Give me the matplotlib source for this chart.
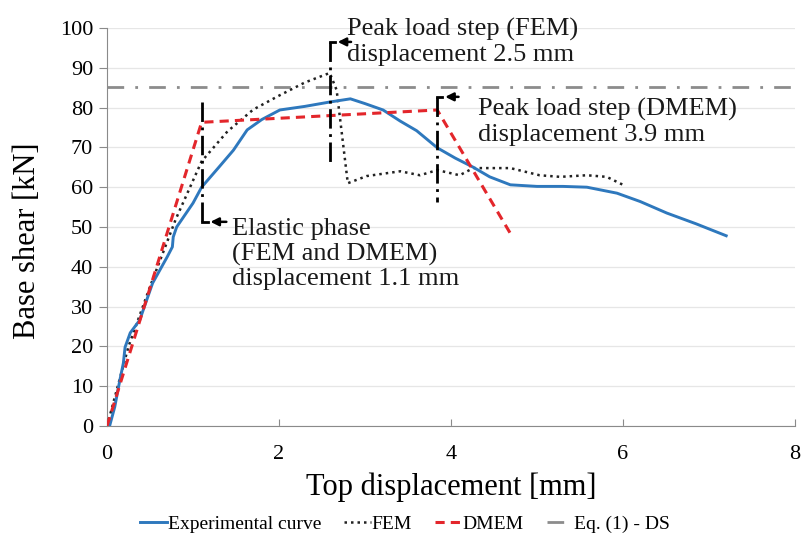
import matplotlib.pyplot as plt

plt.rcParams['font.family'] = ['Liberation Serif', 'DejaVu Serif']

# experimental base shear vs top displacement
exp_x = [0.03, 0.09, 0.15, 0.19, 0.21, 0.27, 0.38, 0.53, 0.70, 0.76, 0.77, 0.81, 1.00,
         1.10, 1.30, 1.47, 1.63, 1.80, 2.01, 2.30, 2.59, 2.83, 3.00, 3.21, 3.41, 3.60,
         3.84, 4.05, 4.26, 4.45, 4.69, 5.00, 5.30, 5.58, 5.93, 6.20, 6.51, 6.85, 7.20]
exp_y = [0.0, 4.8, 11.6, 15.8, 19.8, 23.4, 26.6, 35.9, 42.5, 45.0, 47.5, 50.0, 56.0,
         60.0, 65.0, 69.3, 74.4, 77.0, 79.4, 80.3, 81.4, 82.2, 81.0, 79.4, 76.6, 74.2,
         69.9, 67.3, 65.0, 62.6, 60.6, 60.2, 60.2, 60.0, 58.5, 56.4, 53.5, 50.8, 47.8]

# FEM curve
fem_x = [0.0, 0.25, 0.5, 0.8, 1.1, 1.4, 1.7, 2.0, 2.3, 2.59, 2.67, 2.80, 3.02, 3.41,
         3.64, 3.84, 4.10, 4.26, 4.69, 5.03, 5.27, 5.58, 5.81, 6.00]
fem_y = [0.0, 20.0, 35.0, 52.0, 66.5, 74.0, 79.5, 83.0, 86.3, 88.7, 84.4, 61.0, 62.8, 64.0,
         63.0, 64.3, 63.0, 64.8, 64.8, 63.0, 62.6, 63.0, 62.6, 60.6]

# DMEM tri-linear curve
dmem_x = [0.0, 1.1, 3.84, 4.72]
dmem_y = [0.0, 76.3, 79.4, 47.3]

eq_ds = 85.2

blue = '#2e78bd'
red = '#e3262b'

fig = plt.figure(figsize=(8.01, 5.35), dpi=100)
ax = fig.add_axes([0.1336, 0.2037, 0.8589, 0.7440])

ax.set_xlim(0, 8)
ax.set_ylim(0, 100)
ax.set_xticks([0, 2, 4, 6, 8])
ax.set_yticks(range(0, 101, 10))
ax.grid(axis='y', color='#e6e6e6', lw=0.9)
ax.set_axisbelow(True)
for s in ['top', 'right']:
    ax.spines[s].set_visible(False)
for s in ['left', 'bottom']:
    ax.spines[s].set_color('#8a8a8a')
ax.tick_params(axis='y', direction='out', length=6, color='#8a8a8a', labelsize=16, pad=4)
ax.tick_params(axis='x', direction='in', length=5, color='#8a8a8a', labelsize=16, pad=14)

ax.plot(exp_x, exp_y, color=blue, lw=2.1, label='Experimental curve', zorder=4)
ax.plot(fem_x, fem_y, color='#222222', lw=1.8, ls=(0, (1, 1.6)), label='FEM', zorder=3)
ax.plot(dmem_x, dmem_y, color=red, lw=2.2, ls=(0, (3, 2)), label='DMEM', zorder=5)
ax.axhline(eq_ds, color='#8c8c8c', lw=2.0, ls=(0, (6, 4, 1, 4)), label='Eq. (1) - DS', zorder=2)

# marker lines for the analysis steps
mk = dict(color='black', lw=2.0, ls=(0, (7, 2, 1, 2)), zorder=6)
ax.plot([1.1, 1.1], [81.4, 51.3], **mk)
ax.plot([2.59, 2.59], [96.5, 66.0], **mk)
ax.plot([3.84, 3.84], [82.7, 56.3], **mk)

arr = dict(arrowstyle='-|>', color='black', lw=1.8, mutation_scale=12)
ax.plot([1.1, 1.17], [51.3, 51.3], color='black', lw=2.0, zorder=6)
ax.annotate('', xy=(1.17, 51.3), xytext=(1.42, 51.3), arrowprops=arr)
ax.plot([2.59, 2.65], [96.5, 96.5], color='black', lw=2.0, zorder=6)
ax.annotate('', xy=(2.65, 96.5), xytext=(2.87, 96.5), arrowprops=arr)
ax.plot([3.84, 3.9], [82.7, 82.7], color='black', lw=2.0, zorder=6)
ax.annotate('', xy=(3.9, 82.7), xytext=(4.12, 82.7), arrowprops=arr)

tk = dict(fontsize=19, va='center', ha='left', color='#1a1a1a', linespacing=1.15)
ax.text(1.45, 43.2, 'Elastic phase\n(FEM and DMEM)\ndisplacement 1.1 mm', **tk)
ax.text(2.79, 96.5, 'Peak load step (FEM)\ndisplacement 2.5 mm', **tk)
ax.text(4.31, 76.4, 'Peak load step (DMEM)\ndisplacement 3.9 mm', **tk)

ax.set_xlabel('Top displacement [mm]', fontsize=22, labelpad=6)
ax.set_ylabel('Base shear [kN]', fontsize=22)
ax.yaxis.set_label_coords(-0.094, 0.465)

fig.legend(loc='center', bbox_to_anchor=(0.506, 0.021), ncol=4, frameon=False,
           fontsize=14, handlelength=1.35, handletextpad=0.05, columnspacing=1.2)

fig.savefig('out.png', dpi=100)
